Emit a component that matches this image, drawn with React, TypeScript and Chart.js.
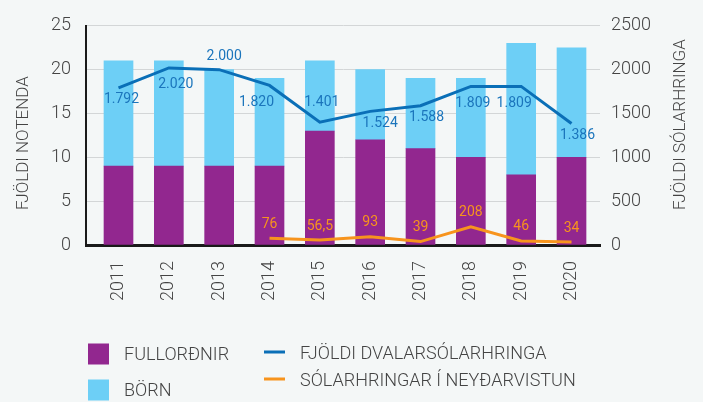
import { useEffect, useRef } from 'react';
import { Chart, registerables } from 'chart.js';

Chart.register(...registerables);

const years = ['2011', '2012', '2013', '2014', '2015', '2016', '2017', '2018', '2019', '2020'];
const adults = [9, 9, 9, 9, 13, 12, 11, 10, 8, 10];
const children = [12, 12, 11, 10, 8, 8, 8, 9, 15, 12.5];
const stayDays = [1792, 2020, 2000, 1820, 1401, 1524, 1588, 1809, 1809, 1386];
const emergencyDays = [null, null, null, 76, 56.5, 93, 39, 208, 46, 34];

const seriesLabels = ['FULLORÐNIR', 'BÖRN', 'FJÖLDI DVALARSÓLARHRINGA', 'SÓLARHRINGAR Í NEYÐARVISTUN'];
const leftTitle = 'FJÖLDI NOTENDA';
const rightTitle = 'FJÖLDI SÓLARHRINGA';

const COLORS = {
  bg: '#f4f7f7',
  adults: '#92278f',
  children: '#6dcff6',
  stay: '#0a6fb7',
  stayLabel: '#1b75bc',
  emergency: '#f7941d',
  grid: '#d3d6d7',
  axis: '#1a1a1a',
  text: '#444444',
};
const FONT = 'Roboto, "Open Sans", sans-serif';

const fmtThousands = (v: number) => {
  const s = String(Math.round(v));
  return s.replace(/\B(?=(\d{3})+(?!\d))/g, '.');
};
const fmtDecimal = (v: number) => String(v).replace('.', ',');

const toPoints = (arr: (number | null)[]) => arr.map((v, i) => ({ x: i, y: v }));

const decorPlugin = {
  id: 'decor',
  beforeDraw(chart: any) {
    const { ctx, width, height } = chart;
    ctx.save();
    ctx.fillStyle = COLORS.bg;
    ctx.fillRect(0, 0, width, height);
    ctx.restore();
  },
  afterDatasetsDraw(chart: any) {
    const { ctx } = chart;
    ctx.save();
    ctx.font = `400 14px ${FONT}`;
    ctx.textAlign = 'center';
    ctx.textBaseline = 'middle';
    const stayMeta = chart.getDatasetMeta(0);
    const above = [false, false, true, false, true, false, false, false, false, false];
    const dxs = [3, 7, 5, -13, 2, 10, 6, 2, -7, 6];
    ctx.fillStyle = COLORS.stayLabel;
    stayMeta.data.forEach((pt: any, i: number) => {
      const v = stayDays[i];
      if (v == null) return;
      const dy = above[i] ? (i === 4 ? -20 : -13) : (v > 1800 ? 17 : 12);
      ctx.fillText(fmtThousands(v), pt.x + dxs[i], pt.y + dy);
    });
    const emMeta = chart.getDatasetMeta(1);
    ctx.fillStyle = COLORS.emergency;
    emMeta.data.forEach((pt: any, i: number) => {
      const v = emergencyDays[i];
      if (v == null) return;
      ctx.fillText(fmtDecimal(v), pt.x, pt.y - 14);
    });
    ctx.restore();
  },
  afterDraw(chart: any) {
    const { ctx, chartArea } = chart;
    ctx.save();
    ctx.fillStyle = COLORS.text;
    ctx.font = `300 17px ${FONT}`;
    ctx.textBaseline = 'middle';
    ctx.textAlign = 'left';
    const titleStart = chartArea.bottom - 35;
    ctx.save();
    ctx.translate(24, titleStart);
    ctx.rotate(-Math.PI / 2);
    ctx.fillText(leftTitle, 0, 0);
    ctx.restore();
    ctx.save();
    ctx.translate(681, titleStart);
    ctx.rotate(-Math.PI / 2);
    ctx.fillText(rightTitle, 0, 0);
    ctx.restore();

    ctx.font = `300 18px ${FONT}`;
    const barItems = [
      { label: seriesLabels[0], color: COLORS.adults, y: 354 },
      { label: seriesLabels[1], color: COLORS.children, y: 390 },
    ];
    barItems.forEach((it) => {
      ctx.fillStyle = it.color;
      ctx.fillRect(88, it.y - 10.5, 21, 21);
      ctx.fillStyle = COLORS.text;
      ctx.fillText(it.label, 124, it.y + 1);
    });
    const lineItems = [
      { label: seriesLabels[2], color: COLORS.stay, y: 352 },
      { label: seriesLabels[3], color: COLORS.emergency, y: 379 },
    ];
    lineItems.forEach((it) => {
      ctx.fillStyle = it.color;
      ctx.fillRect(264, it.y - 1.5, 21, 3);
      ctx.fillStyle = COLORS.text;
      ctx.fillText(it.label, 300, it.y + 2);
    });
    ctx.restore();
  },
};

export default function App() {
  const ref = useRef<HTMLCanvasElement | null>(null);
  useEffect(() => {
    document.body.style.margin = '0';
    document.body.style.background = COLORS.bg;
    if (!ref.current) return;
    const tickFont = { family: FONT, size: 18, weight: '300' };
    const chart = new Chart(ref.current, {
      type: 'bar',
      data: {
        datasets: [
          {
            type: 'line',
            label: seriesLabels[2],
            data: toPoints(stayDays),
            yAxisID: 'y2',
            borderColor: COLORS.stay,
            backgroundColor: COLORS.stay,
            borderWidth: 3,
            pointRadius: 0,
            tension: 0,
            order: 0,
          },
          {
            type: 'line',
            label: seriesLabels[3],
            data: toPoints(emergencyDays),
            yAxisID: 'y2',
            borderColor: COLORS.emergency,
            backgroundColor: COLORS.emergency,
            borderWidth: 3,
            pointRadius: 0,
            tension: 0,
            order: 0,
          },
          {
            type: 'bar',
            label: seriesLabels[0],
            data: toPoints(adults),
            yAxisID: 'y',
            backgroundColor: COLORS.adults,
            barThickness: 29,
            order: 1,
          },
          {
            type: 'bar',
            label: seriesLabels[1],
            data: toPoints(children),
            yAxisID: 'y',
            backgroundColor: COLORS.children,
            barThickness: 29,
            order: 1,
          },
        ],
      } as any,
      options: {
        responsive: false,
        animation: false,
        devicePixelRatio: 1,
        layout: { padding: { top: 20, left: 0, right: 0, bottom: 0 } },
        plugins: {
          legend: { display: false },
          tooltip: { enabled: false },
        },
        scales: {
          x: {
            type: 'linear',
            stacked: true,
            offset: false,
            min: -0.6457,
            max: 9.566,
            z: 1,
            grid: { display: false, drawTicks: false, offset: false },
            border: { display: true, color: COLORS.axis, width: 3 },
            afterBuildTicks: (scale: any) => {
              scale.ticks = years.map((_, i) => ({ value: i }));
            },
            afterFit: (scale: any) => {
              scale.height = 157;
            },
            ticks: {
              autoSkip: false,
              minRotation: 90,
              maxRotation: 90,
              padding: 16,
              color: COLORS.text,
              font: tickFont,
              callback: (value: any) => years[value] ?? '',
            },
          },
          y: {
            type: 'linear',
            position: 'left',
            stacked: true,
            min: 0,
            max: 25,
            grid: { color: COLORS.grid, lineWidth: 1, drawTicks: false },
            border: { display: true, color: COLORS.axis, width: 2 },
            afterFit: (scale: any) => {
              scale.width = 86;
            },
            ticks: {
              stepSize: 5,
              padding: 15,
              color: COLORS.text,
              font: tickFont,
            },
          },
          y2: {
            type: 'linear',
            position: 'right',
            min: 0,
            max: 2500,
            grid: { display: false, drawTicks: false },
            border: { display: false },
            afterFit: (scale: any) => {
              scale.width = 103;
            },
            ticks: {
              stepSize: 500,
              padding: 11,
              color: COLORS.text,
              font: tickFont,
              callback: (v: any) => String(v),
            },
          },
        },
      } as any,
      plugins: [decorPlugin],
    });
    return () => chart.destroy();
  }, []);
  return (
    <div style={{ width: 703, height: 402 }}>
      <canvas ref={ref} width={703} height={402} />
    </div>
  );
}
